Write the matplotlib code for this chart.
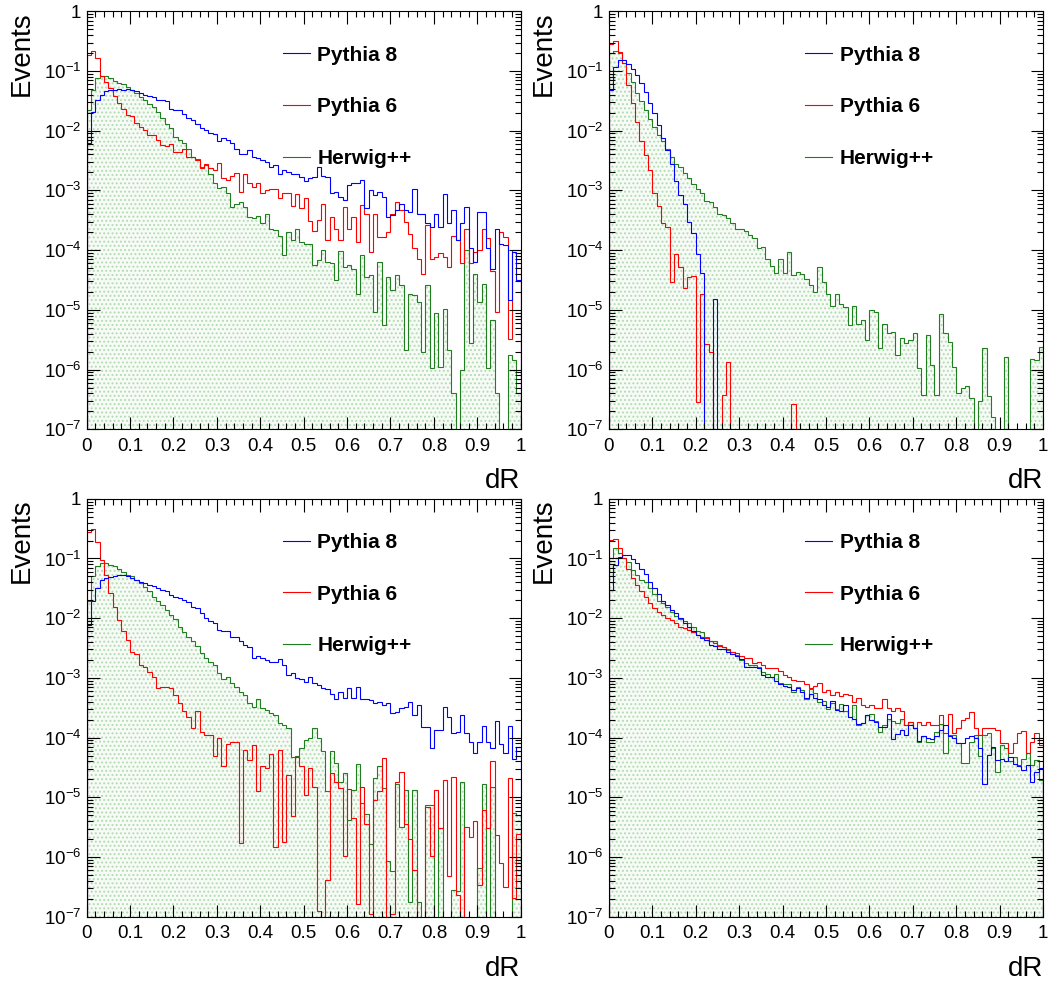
import matplotlib
matplotlib.use("Agg")
import matplotlib.pyplot as plt
import numpy as np
from matplotlib.lines import Line2D
from matplotlib.ticker import FixedLocator, FuncFormatter, LogLocator, MultipleLocator, NullFormatter

plt.rcParams["font.family"] = ["Liberation Sans", "DejaVu Sans"]
plt.rcParams["mathtext.fontset"] = "custom"
plt.rcParams["mathtext.rm"] = "Liberation Sans"
plt.rcParams["mathtext.it"] = "Liberation Sans:italic"
plt.rcParams["mathtext.bf"] = "Liberation Sans:bold"
plt.rcParams["hatch.linewidth"] = 0.9

# log10(Events) per 0.01 bin in dR; None = empty bin
bin_edges = np.linspace(0.0, 1.0, 101)
series_labels = ["Pythia 8", "Pythia 6", "Herwig++"]

tl_pythia8_log10 = [
    -2.21, -1.68, -1.49, -1.40, -1.33, -1.32, -1.31, -1.30, -1.32, -1.30,
    -1.31, -1.33, -1.36, -1.40, -1.42, -1.44, -1.48, -1.49, -1.51, -1.64,
    -1.65, -1.66, -1.72, -1.79, -1.82, -1.88, -1.96, -1.98, -2.04, -2.06,
    -2.17, -2.13, -2.16, -2.20, -2.30, -2.39, -2.39, -2.32, -2.44, -2.46,
    -2.49, -2.52, -2.60, -2.58, -2.72, -2.66, -2.69, -2.73, -2.73, -2.77,
    -2.84, -2.80, -2.77, -2.61, -2.76, -2.77, -3.04, -3.02, -3.11, -3.16,
    -2.91, -2.88, -2.87, -2.83, -3.30, -2.99, -3.08, -3.02, -3.11, -3.44,
    -3.41, -3.32, -3.22, -3.33, -3.36, -2.97, -3.39, -3.39, -3.55, -3.61,
    -3.40, -3.61, -3.06, -3.55, -3.33, -3.83, -3.55, -3.28, -3.96, -4.20,
    -3.36, -3.36, -3.97, -4.31, -3.64, -3.89, -3.92, -4.84, -4.03, -4.50,
]
tl_pythia6_log10 = [
    -0.73, -0.66, -0.79, -1.09, -1.18, -1.29, -1.42, -1.54, -1.63, -1.74,
    -1.75, -1.87, -1.93, -1.99, -2.07, -2.07, -2.15, -2.24, -2.26, -2.23,
    -2.35, -2.35, -2.31, -2.44, -2.44, -2.49, -2.63, -2.56, -2.63, -2.65,
    -2.54, -2.80, -2.82, -2.76, -2.70, -3.02, -2.72, -2.88, -2.94, -2.88,
    -3.04, -2.99, -2.98, -2.97, -3.13, -3.05, -3.04, -3.26, -3.06, -3.30,
    -3.13, -3.51, -3.68, -3.50, -3.22, -3.83, -3.44, -3.65, -3.83, -3.28,
    -3.64, -3.44, -3.86, -3.25, -3.39, -4.03, -3.39, -3.78, -3.78, -3.69,
    -3.40, -3.19, -3.33, -3.53, -3.73, -3.96, -4.14, -4.40, -3.58, -4.14,
    -4.11, -4.04, -4.11, -4.29, -3.77, -3.83, -4.22, -3.64, -4.22, -4.03,
    -4.00, -3.64, -3.80, -4.35, -5.03, -3.69, -3.78, -5.48, -4.00, -3.99,
]
tl_herwig_log10 = [
    -1.65, -1.32, -1.12, -1.08, -1.08, -1.12, -1.16, -1.20, -1.22, -1.26,
    -1.32, -1.37, -1.44, -1.49, -1.55, -1.60, -1.68, -1.78, -1.89, -1.96,
    -2.10, -2.15, -2.21, -2.31, -2.44, -2.48, -2.60, -2.58, -2.73, -2.88,
    -2.96, -2.94, -3.05, -3.27, -3.22, -3.19, -3.27, -3.45, -3.47, -3.43,
    -3.55, -3.40, -3.64, -3.66, -3.77, -4.08, -3.69, -3.83, -3.64, -3.86,
    -3.89, -3.89, -4.25, -4.16, -3.99, -4.20, -4.22, -4.50, -4.01, -4.29,
    -4.25, -4.31, -4.73, -4.08, -4.45, -4.42, -5.03, -4.20, -5.26, -4.45,
    -4.67, -4.42, -4.59, -5.68, -4.74, -4.75, -4.87, -5.70, -4.59, -5.98,
    -5.06, -5.95, -4.98, -5.68, -6.40, None, -6.00, -3.99, -5.56, -4.40,
    -4.87, -4.57, -5.98, -5.17, -6.40, None, None, -5.76, -5.84, -6.40,
]

tr_pythia8_log10 = [
    -1.32, -0.93, -0.82, -0.82, -0.88, -0.96, -1.07, -1.20, -1.35, -1.54,
    -1.71, -1.91, -2.13, -2.32, -2.55, -2.84, -3.08, -3.23, -3.53, -3.71,
    -4.06, -4.39, None, None, -4.82, None, None, None, None, None,
] + [None] * 70
tr_pythia6_log10 = [
    -0.54, -0.49, -0.68, -0.87, -1.23, -1.54, -1.85, -2.18, -2.41, -2.66,
    -3.05, -3.26, -3.55, -3.61, -4.53, -4.06, -4.28, -4.64, -4.45, -4.44,
    -6.54, -4.73, -5.57, -5.70, None, None, -6.42, -5.88, None, None,
    None, None, None, None, None, None, None, None, None, None,
    None, None, -6.58, None, None, None, None, None, None, None,
] + [None] * 50
tr_herwig_log10 = [
    -0.70, -0.66, -0.70, -0.87, -1.03, -1.18, -1.36, -1.51, -1.65, -1.81,
    -1.94, -2.07, -2.18, -2.30, -2.44, -2.55, -2.60, -2.70, -2.80, -2.89,
    -2.97, -3.05, -3.17, -3.19, -3.27, -3.40, -3.41, -3.46, -3.55, -3.64,
    -3.64, -3.68, -3.75, -3.79, -3.96, -3.94, -4.14, -4.27, -4.39, -4.14,
    -4.39, -4.03, -4.42, -4.36, -4.40, -4.49, -4.59, -4.70, -4.28, -4.53,
    -4.73, -4.94, -4.74, -4.91, -4.96, -5.26, -4.93, -5.23, -5.17, -5.51,
    -5.00, -5.03, -5.64, -5.24, -5.38, -5.37, -5.76, -5.47, -5.56, -5.50,
    -5.39, -5.98, -6.42, -5.42, -5.92, -6.42, -5.07, -5.39, -5.53, -5.95,
    -6.40, -6.31, -6.27, -6.48, None, -6.52, -5.64, -6.45, -6.79, None,
    None, -5.79, None, None, None, None, None, -5.83, -5.84, -5.63,
]

bl_pythia8_log10 = [
    -2.11, -1.71, -1.50, -1.36, -1.32, -1.31, -1.29, -1.28, -1.28, -1.30,
    -1.32, -1.36, -1.40, -1.41, -1.44, -1.46, -1.50, -1.53, -1.55, -1.61,
    -1.64, -1.66, -1.70, -1.73, -1.81, -1.83, -1.92, -2.00, -2.04, -2.08,
    -2.19, -2.21, -2.21, -2.31, -2.31, -2.39, -2.45, -2.49, -2.66, -2.63,
    -2.67, -2.70, -2.73, -2.73, -2.68, -2.78, -2.95, -2.92, -3.00, -3.01,
    -3.07, -2.98, -3.09, -3.12, -3.17, -3.18, -3.27, -3.35, -3.23, -3.34,
    -3.17, -3.33, -3.16, -3.35, -3.35, -3.37, -3.42, -3.40, -3.46, -3.42,
    -3.58, -3.57, -3.51, -3.48, -3.41, -3.62, -3.46, -3.82, -3.82, -4.17,
    -3.87, -3.87, -3.48, -3.65, -3.93, -3.91, -3.62, -3.93, -4.07, -4.25,
    -4.07, -3.80, -4.08, -4.17, -3.73, -4.10, -4.25, -3.80, -4.35, -4.15,
]
bl_pythia6_log10 = [
    -0.56, -0.50, -0.73, -1.02, -1.28, -1.58, -1.81, -2.03, -2.22, -2.36,
    -2.56, -2.60, -2.79, -2.81, -2.90, -2.98, -3.17, -3.15, -3.15, -3.17,
    -3.28, -3.42, -3.56, -3.65, -3.84, -3.56, -3.90, -3.96, -3.96, -4.30,
    -4.00, -4.47, -4.10, -4.07, -4.07, -5.76, -4.21, -4.37, -4.12, -4.90,
    -4.48, -4.51, -4.28, -5.83, -4.21, -5.74, -4.63, -5.32, -4.32, -4.48,
    -4.96, -4.51, -4.82, -6.90, None, -6.38, -4.60, -4.75, -4.85, -5.99,
    -4.86, -5.34, -6.79, -4.82, -5.44, -6.95, -5.04, -4.89, -4.34, None,
    -6.95, -4.74, -4.57, -5.44, -5.69, -6.22, None, None, -5.16, -5.99,
    -4.88, -5.52, -4.71, -6.32, -4.66, -6.63, None, -5.49, -5.66, -5.40,
    -6.47, -5.21, -5.52, -4.39, -5.63, -6.10, -6.51, -4.67, -6.68, -5.62,
]
bl_herwig_log10 = [
    -1.72, -1.30, -1.13, -1.08, -1.08, -1.11, -1.13, -1.17, -1.23, -1.27,
    -1.30, -1.36, -1.41, -1.47, -1.55, -1.64, -1.71, -1.78, -1.86, -1.94,
    -2.01, -2.14, -2.23, -2.31, -2.39, -2.47, -2.59, -2.67, -2.73, -2.78,
    -2.92, -3.01, -2.98, -3.09, -3.15, -3.23, -3.28, -3.42, -3.48, -3.35,
    -3.51, -3.54, -3.59, -3.62, -3.76, -3.79, -3.84, -4.32, -4.30, -4.18,
    -4.04, -4.01, -3.84, -4.01, -4.23, -4.90, -4.23, -4.43, -4.74, -4.60,
    -5.38, -4.88, -4.45, -5.10, -5.28, -5.79, -4.67, -4.48, -4.85, -6.07,
    -6.24, -4.77, -5.49, -4.88, -6.75, -4.88, -6.75, None, -5.13, -5.13,
    None, -5.52, None, None, -6.55, -6.57, -4.74, None, None, None,
    -6.19, -4.77, None, -4.82, None, None, None, None, -5.27, -5.30,
]

br_pythia8_log10 = [
    -1.53, -1.11, -0.97, -0.94, -0.95, -1.01, -1.08, -1.17, -1.26, -1.40,
    -1.50, -1.60, -1.71, -1.78, -1.86, -1.92, -1.99, -2.08, -2.14, -2.22,
    -2.28, -2.34, -2.36, -2.45, -2.47, -2.52, -2.52, -2.56, -2.60, -2.64,
    -2.68, -2.81, -2.81, -2.81, -2.84, -2.95, -2.98, -2.99, -3.06, -3.11,
    -3.13, -3.15, -3.20, -3.17, -3.23, -3.34, -3.27, -3.34, -3.35, -3.45,
    -3.48, -3.39, -3.54, -3.55, -3.45, -3.65, -3.69, -3.78, -3.76, -3.62,
    -3.70, -3.74, -3.82, -3.82, -3.61, -4.02, -3.94, -3.88, -3.96, -3.79,
    -3.84, -4.06, -3.98, -4.00, -4.02, -3.97, -3.88, -3.79, -3.98, -4.01,
    -4.09, -4.09, -4.01, -3.98, -4.01, -4.18, -4.78, -4.29, -4.15, -4.37,
    -4.35, -4.40, -4.32, -4.45, -4.47, -4.54, -4.46, -4.75, -4.58, -4.51,
]
br_pythia6_log10 = [
    -0.69, -0.67, -0.83, -0.99, -1.17, -1.33, -1.45, -1.55, -1.64, -1.75,
    -1.83, -1.89, -1.94, -1.99, -2.03, -2.08, -2.14, -2.17, -2.20, -2.23,
    -2.28, -2.31, -2.34, -2.39, -2.42, -2.46, -2.49, -2.52, -2.56, -2.59,
    -2.63, -2.66, -2.67, -2.75, -2.73, -2.79, -2.84, -2.83, -2.84, -2.89,
    -2.95, -2.99, -3.03, -3.06, -3.05, -3.11, -3.17, -3.13, -3.09, -3.23,
    -3.20, -3.28, -3.23, -3.31, -3.27, -3.28, -3.40, -3.34, -3.45, -3.48,
    -3.46, -3.51, -3.51, -3.35, -3.51, -3.56, -3.51, -3.55, -3.79, -3.74,
    -3.84, -3.74, -3.79, -3.74, -3.79, -3.79, -3.62, -3.92, -3.60, -3.93,
    -3.84, -3.71, -3.67, -3.57, -3.84, -3.95, -3.84, -3.84, -3.84, -3.88,
    -4.09, -4.09, -4.26, -4.09, -3.93, -3.89, -4.26, -4.07, -3.93, -4.12,
]
br_herwig_log10 = [
    -0.99, -0.83, -0.90, -0.99, -1.06, -1.19, -1.27, -1.36, -1.40, -1.50,
    -1.60, -1.71, -1.75, -1.82, -1.89, -1.97, -2.01, -2.05, -2.08, -2.15,
    -2.22, -2.23, -2.32, -2.39, -2.39, -2.45, -2.49, -2.53, -2.56, -2.62,
    -2.70, -2.75, -2.78, -2.79, -2.81, -2.90, -2.94, -2.98, -2.94, -3.09,
    -3.11, -3.11, -3.23, -3.16, -3.20, -3.35, -3.18, -3.26, -3.40, -3.39,
    -3.52, -3.42, -3.52, -3.44, -3.56, -3.65, -3.46, -3.79, -3.76, -3.62,
    -3.61, -3.72, -3.91, -3.79, -3.69, -3.72, -3.76, -3.69, -3.79, -3.74,
    -3.84, -4.07, -3.98, -4.07, -4.07, -3.90, -3.78, -4.26, -3.95, -3.96,
    -4.09, -4.43, -4.43, -4.07, -3.96, -4.30, -3.95, -3.92, -4.17, -4.57,
    -4.12, -4.18, -4.40, -4.32, -4.46, -4.35, -4.26, -4.46, -4.37, -4.71,
]

panels = [
    (tl_pythia8_log10, tl_pythia6_log10, tl_herwig_log10),
    (tr_pythia8_log10, tr_pythia6_log10, tr_herwig_log10),
    (bl_pythia8_log10, bl_pythia6_log10, bl_herwig_log10),
    (br_pythia8_log10, br_pythia6_log10, br_herwig_log10),
]

BLUE = "#0000ff"
RED = "#ff0000"
GREEN = "#1f7f1f"
FILL_DOTS = "#b4dab4"

axes_rects = [
    [0.0823, 0.5633, 0.4122, 0.4252],
    [0.5783, 0.5633, 0.4122, 0.4252],
    [0.0823, 0.0674, 0.4122, 0.4252],
    [0.5783, 0.0674, 0.4122, 0.4252],
]


def to_counts(log_values):
    return np.array([0.0 if v is None else 10.0 ** v for v in log_values])


def y_label(value, _pos):
    if np.isclose(value, 1.0):
        return "1"
    return r"$10^{%d}$" % round(np.log10(value))


fig = plt.figure(figsize=(10.53, 9.83), dpi=100)

for rect, (p8, p6, hw) in zip(axes_rects, panels):
    ax = fig.add_axes(rect)
    ax.set_yscale("log", nonpositive="clip")

    hw_counts = to_counts(hw)
    ax.stairs(hw_counts, bin_edges, baseline=1e-12, fill=True, facecolor="#f6fbf6",
              edgecolor=FILL_DOTS, hatch="....", linewidth=0)
    ax.stairs(hw_counts, bin_edges, baseline=1e-12, color=GREEN, linewidth=0.8)
    ax.stairs(to_counts(p6), bin_edges, baseline=1e-12, color=RED, linewidth=0.8)
    ax.stairs(to_counts(p8), bin_edges, baseline=1e-12, color=BLUE, linewidth=0.8)

    ax.set_xlim(0, 1)
    ax.set_ylim(1e-7, 1)

    ax.xaxis.set_major_locator(MultipleLocator(0.1))
    ax.xaxis.set_minor_locator(MultipleLocator(0.02))
    ax.xaxis.set_major_formatter(FuncFormatter(lambda v, _p: "%g" % round(v, 2)))
    ax.yaxis.set_major_locator(FixedLocator([10.0 ** k for k in range(-7, 1)]))
    ax.yaxis.set_minor_locator(LogLocator(base=10, subs=np.arange(2, 10), numticks=20))
    ax.yaxis.set_major_formatter(FuncFormatter(y_label))
    ax.yaxis.set_minor_formatter(NullFormatter())

    ax.tick_params(which="both", direction="in", top=True, right=True, labelsize=13.5, width=0.8)
    ax.tick_params(which="major", length=9)
    ax.tick_params(which="minor", length=4.5)
    ax.tick_params(axis="x", pad=6)
    ax.tick_params(axis="y", pad=4)

    ax.set_ylabel("Events", fontsize=20, loc="top")
    ax.yaxis.set_label_coords(-0.12, 1.0)
    ax.set_xlabel("dR", fontsize=20, loc="right")
    ax.xaxis.set_label_coords(1.0, -0.093)

    handles = [Line2D([], [], color=c, linewidth=0.8) for c in (BLUE, RED, GREEN)]
    ax.legend(handles, series_labels, loc="upper left", bbox_to_anchor=(0.452, 0.918),
              frameon=False, handlelength=1.3, handletextpad=0.35, labelspacing=1.57,
              borderpad=0, borderaxespad=0, prop={"weight": "bold", "size": 15})

fig.savefig("out.png", dpi=100)
